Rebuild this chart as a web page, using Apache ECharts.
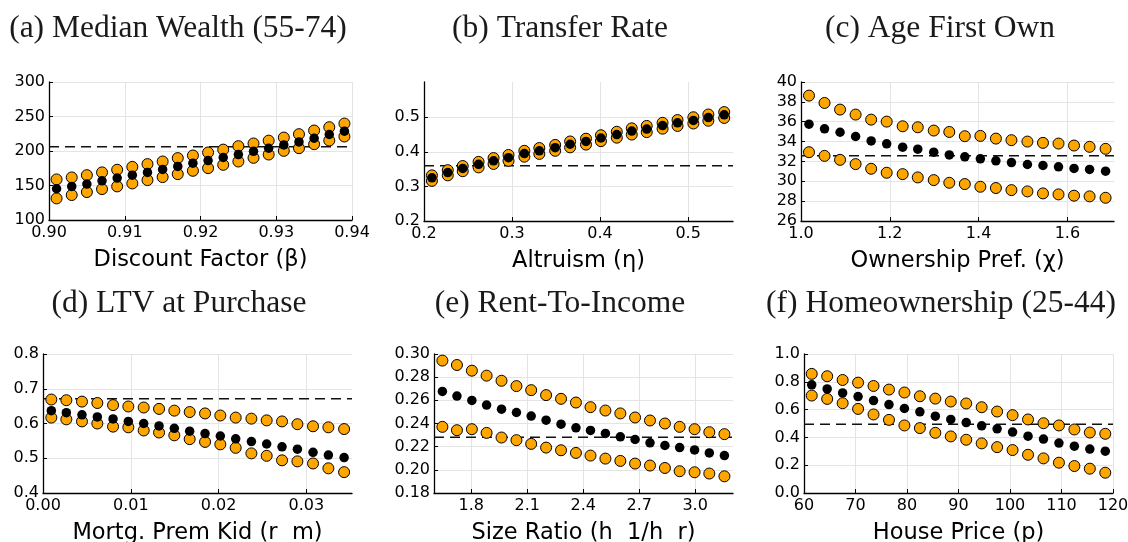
<!DOCTYPE html>
<html>
<head>
<meta charset="utf-8">
<script src="https://cdn.jsdelivr.net/npm/echarts@6/dist/echarts.min.js"></script>
<style>
  html, body { margin: 0; padding: 0; background: #fff; }
  #chart { width: 1128px; height: 542px; }
</style>
</head>
<body>
<div id="chart"></div>
<script>
// (a) Median wealth (55-74) vs discount factor
const betaGrid = [0.901, 0.903, 0.905, 0.907, 0.909, 0.911, 0.913, 0.915, 0.917, 0.919, 0.921, 0.923, 0.925, 0.927, 0.929, 0.931, 0.933, 0.935, 0.937, 0.939];
const wealthHi  = [158.8, 161.7, 165.0, 169.0, 172.8, 177.0, 181.0, 184.8, 189.7, 193.5, 197.8, 202.0, 207.0, 210.9, 215.0, 219.5, 224.4, 229.7, 234.5, 239.8];
const wealthMid = [145.3, 148.7, 152.1, 156.8, 160.7, 165.0, 168.9, 173.3, 177.6, 182.4, 186.2, 190.6, 194.9, 199.6, 204.0, 208.8, 213.2, 218.5, 223.9, 228.7];
const wealthLo  = [131.3, 136.2, 140.5, 144.8, 148.7, 153.0, 157.8, 162.2, 166.5, 171.3, 175.2, 180.0, 184.8, 190.1, 194.9, 200.2, 204.1, 209.9, 215.2, 221.0];
const wealthTarget = 206;
const wealthXTicks = [0.90, 0.91, 0.92, 0.93, 0.94];
const wealthYTicks = [100, 150, 200, 250, 300];

// (b) Transfer rate vs altruism
const etaGrid = [0.209, 0.227, 0.244, 0.262, 0.279, 0.296, 0.314, 0.331, 0.349, 0.366, 0.384, 0.401, 0.419, 0.436, 0.453, 0.471, 0.488, 0.506, 0.523, 0.541];
const transferHi  = [0.332, 0.347, 0.359, 0.371, 0.382, 0.391, 0.403, 0.411, 0.420, 0.430, 0.438, 0.448, 0.458, 0.468, 0.475, 0.484, 0.492, 0.500, 0.508, 0.515];
const transferMid = [0.325, 0.340, 0.352, 0.364, 0.374, 0.383, 0.395, 0.403, 0.412, 0.422, 0.430, 0.440, 0.450, 0.460, 0.466, 0.476, 0.484, 0.491, 0.499, 0.507];
const transferLo  = [0.316, 0.332, 0.344, 0.355, 0.365, 0.374, 0.386, 0.394, 0.403, 0.413, 0.421, 0.431, 0.441, 0.450, 0.457, 0.467, 0.475, 0.482, 0.490, 0.498];
const transferTarget = 0.3596;
const transferXTicks = [0.2, 0.3, 0.4, 0.5];
const transferYTicks = [0.2, 0.3, 0.4, 0.5];

// (c) Age first own vs ownership preference
const chiGrid = [1.018, 1.053, 1.088, 1.123, 1.158, 1.193, 1.229, 1.263, 1.299, 1.334, 1.369, 1.404, 1.439, 1.474, 1.510, 1.545, 1.580, 1.615, 1.650, 1.686];
const ageHi  = [38.63, 37.89, 37.22, 36.72, 36.21, 36.01, 35.54, 35.44, 35.11, 34.97, 34.54, 34.57, 34.30, 34.14, 34.00, 33.87, 33.80, 33.60, 33.47, 33.27];
const ageMid = [35.75, 35.28, 34.94, 34.51, 34.07, 33.77, 33.43, 33.23, 32.93, 32.66, 32.46, 32.26, 32.06, 31.89, 31.69, 31.59, 31.46, 31.29, 31.19, 31.02];
const ageLo  = [32.93, 32.56, 32.16, 31.73, 31.26, 30.86, 30.72, 30.39, 30.12, 29.85, 29.72, 29.45, 29.32, 29.11, 28.98, 28.78, 28.68, 28.55, 28.48, 28.34];
const ageTarget = 32.56;
const ageXTicks = [1.0, 1.2, 1.4, 1.6];
const ageYTicks = [26, 28, 30, 32, 34, 36, 38, 40];

// (d) LTV at purchase vs mortgage premium for kids
const premGrid = [0.00095, 0.00266, 0.00444, 0.00619, 0.00798, 0.00972, 0.01147, 0.01322, 0.01496, 0.01671, 0.01846, 0.02020, 0.02195, 0.02374, 0.02548, 0.02723, 0.02898, 0.03076, 0.03251, 0.03430];
const ltvHi  = [0.669, 0.667, 0.663, 0.659, 0.653, 0.649, 0.646, 0.642, 0.637, 0.633, 0.629, 0.623, 0.617, 0.614, 0.609, 0.606, 0.598, 0.592, 0.589, 0.584];
const ltvMid = [0.637, 0.631, 0.625, 0.619, 0.613, 0.606, 0.600, 0.593, 0.586, 0.578, 0.571, 0.564, 0.556, 0.548, 0.541, 0.533, 0.526, 0.517, 0.509, 0.502];
const ltvLo  = [0.617, 0.612, 0.606, 0.600, 0.591, 0.589, 0.580, 0.574, 0.566, 0.555, 0.547, 0.540, 0.530, 0.514, 0.507, 0.494, 0.491, 0.485, 0.471, 0.460];
const ltvTarget = 0.671;
const ltvXTicks = [0.00, 0.01, 0.02, 0.03];
const ltvYTicks = [0.4, 0.5, 0.6, 0.7, 0.8];

// (e) Rent-to-income vs size ratio
const sizeGrid = [1.645, 1.723, 1.803, 1.882, 1.962, 2.042, 2.121, 2.201, 2.281, 2.361, 2.439, 2.519, 2.599, 2.678, 2.758, 2.838, 2.917, 2.997, 3.076, 3.157];
const rentHi  = [0.2943, 0.2905, 0.2856, 0.2813, 0.2769, 0.2723, 0.2688, 0.2645, 0.2613, 0.2581, 0.2541, 0.2512, 0.2487, 0.2452, 0.2426, 0.2400, 0.2371, 0.2351, 0.2325, 0.2308];
const rentMid = [0.2677, 0.2637, 0.2599, 0.2559, 0.2524, 0.2495, 0.2464, 0.2429, 0.2394, 0.2363, 0.2340, 0.2314, 0.2285, 0.2262, 0.2233, 0.2210, 0.2192, 0.2172, 0.2146, 0.2123];
const rentLo  = [0.2371, 0.2342, 0.2351, 0.2319, 0.2279, 0.2256, 0.2224, 0.2192, 0.2169, 0.2146, 0.2123, 0.2097, 0.2077, 0.2054, 0.2037, 0.2016, 0.1988, 0.1979, 0.1968, 0.1944];
const rentTarget = 0.2282;
const rentXTicks = [1.8, 2.1, 2.4, 2.7, 3.0];
const rentYTicks = [0.18, 0.20, 0.22, 0.24, 0.26, 0.28, 0.30];

// (f) Homeownership (25-44) vs house price
const priceGrid = [61.5, 64.5, 67.5, 70.5, 73.5, 76.5, 79.5, 82.5, 85.5, 88.5, 91.5, 94.5, 97.5, 100.5, 103.5, 106.5, 109.5, 112.5, 115.5, 118.5];
const ownHi  = [0.857, 0.840, 0.813, 0.794, 0.770, 0.744, 0.723, 0.696, 0.679, 0.658, 0.644, 0.617, 0.586, 0.560, 0.529, 0.502, 0.486, 0.457, 0.435, 0.426];
const ownMid = [0.778, 0.749, 0.720, 0.694, 0.665, 0.636, 0.608, 0.584, 0.553, 0.529, 0.507, 0.483, 0.462, 0.438, 0.409, 0.388, 0.359, 0.337, 0.316, 0.301];
const ownLo  = [0.701, 0.677, 0.646, 0.605, 0.565, 0.526, 0.486, 0.467, 0.433, 0.407, 0.383, 0.357, 0.330, 0.309, 0.275, 0.249, 0.218, 0.194, 0.175, 0.146];
const ownTarget = 0.495;
const ownXTicks = [60, 70, 80, 90, 100, 110, 120];
const ownYTicks = [0.0, 0.2, 0.4, 0.6, 0.8, 1.0];

const ORANGE = '#FFA500';
const SANS = '"DejaVu Sans", sans-serif';
const SERIF = '"Liberation Serif", "DejaVu Serif", serif';

const panels = [
  { title: '(a) Median Wealth (55-74)', tx: 178, ty: 29, name: 'Discount Factor (\u03b2)',
    x: betaGrid, hi: wealthHi, mid: wealthMid, lo: wealthLo, target: wealthTarget,
    xt: wealthXTicks, yt: wealthYTicks, xd: 2, yd: 0,
    xr: [0.90, 0.94], yr: [100, 300], rect: [49, 82, 303, 138] },
  { title: '(b) Transfer Rate', tx: 560, ty: 29, name: 'Altruism (\u03b7)',
    x: etaGrid, hi: transferHi, mid: transferMid, lo: transferLo, target: transferTarget,
    xt: transferXTicks, yt: transferYTicks, xd: 1, yd: 1,
    xr: [0.2, 0.551], yr: [0.2, 0.602], rect: [424, 82, 309, 139] },
  { title: '(c) Age First Own', tx: 940, ty: 29, name: 'Ownership Pref. (\u03c7)',
    x: chiGrid, hi: ageHi, mid: ageMid, lo: ageLo, target: ageTarget,
    xt: ageXTicks, yt: ageYTicks, xd: 1, yd: 0,
    xr: [1.0, 1.705], yr: [26, 40], rect: [801, 82, 313, 139] },
  { title: '(d) LTV at Purchase', tx: 179, ty: 304, name: 'Mortg. Prem Kid (r  m)',
    x: premGrid, hi: ltvHi, mid: ltvMid, lo: ltvLo, target: ltvTarget,
    xt: ltvXTicks, yt: ltvYTicks, xd: 2, yd: 1,
    xr: [0, 0.0352], yr: [0.4, 0.8], rect: [43, 354, 309, 139] },
  { title: '(e) Rent-To-Income', tx: 560, ty: 304, name: 'Size Ratio (h  1/h  r)',
    x: sizeGrid, hi: rentHi, mid: rentMid, lo: rentLo, target: rentTarget,
    xt: rentXTicks, yt: rentYTicks, xd: 1, yd: 2,
    xr: [1.6, 3.203], yr: [0.18, 0.30], rect: [434, 354, 299, 139] },
  { title: '(f) Homeownership (25-44)', tx: 941, ty: 304, name: 'House Price (p)',
    x: priceGrid, hi: ownHi, mid: ownMid, lo: ownLo, target: ownTarget,
    xt: ownXTicks, yt: ownYTicks, xd: 0, yd: 1,
    xr: [60, 120], yr: [0, 1.0], rect: [804, 354, 309, 139] }
];

const grids = [], xAxes = [], yAxes = [], series = [], graphics = [];

function axisCommon(ticks, digits) {
  return {
    axisLine: { show: true, onZero: false, lineStyle: { color: '#000', width: 1.3 } },
    axisTick: { show: true, inside: true, length: 4, customValues: ticks,
                lineStyle: { color: '#000', width: 1 } },
    axisLabel: { customValues: ticks, color: '#000', fontFamily: SANS, fontSize: 16,
                 formatter: v => Number(v).toFixed(digits) },
    splitLine: { show: true, lineStyle: { color: '#e4e4e4', width: 1 } }
  };
}

panels.forEach((p, i) => {
  // fixed plot rectangles; labels/names may sit outside them
  grids.push({ left: p.rect[0], top: p.rect[1], width: p.rect[2], height: p.rect[3],
               containLabel: false, outerBoundsMode: 'none' });

  const xa = axisCommon(p.xt, p.xd);
  xa.axisLabel.margin = 5;
  xAxes.push(Object.assign({
    type: 'value', gridIndex: i, min: p.xr[0], max: p.xr[1],
    name: p.name, nameLocation: 'middle', nameGap: 29,
    nameTextStyle: { color: '#000', fontFamily: SANS, fontSize: 22.5, verticalAlign: 'top' }
  }, xa));

  const ya = axisCommon(p.yt, p.yd);
  ya.axisLabel.margin = 4;
  yAxes.push(Object.assign({ type: 'value', gridIndex: i, min: p.yr[0], max: p.yr[1] }, ya));

  // calibration target (dashed horizontal reference)
  series.push({
    type: 'line', xAxisIndex: i, yAxisIndex: i, symbol: 'none', silent: true, z: 1,
    data: [[p.xr[0], p.target], [p.xr[1], p.target]],
    lineStyle: { color: '#111', width: 1.5, type: [10, 6] }
  });
  const pair = arr => p.x.map((xv, k) => [xv, arr[k]]);
  [p.hi, p.lo].forEach(arr => series.push({
    type: 'scatter', xAxisIndex: i, yAxisIndex: i, z: 3, silent: true,
    symbol: 'circle', symbolSize: 11, data: pair(arr),
    itemStyle: { color: ORANGE, borderColor: '#000', borderWidth: 1, opacity: 1 }
  }));
  series.push({
    type: 'scatter', xAxisIndex: i, yAxisIndex: i, z: 4, silent: true,
    symbol: 'circle', symbolSize: 9.5, data: pair(p.mid),
    itemStyle: { color: '#000', opacity: 1 }
  });

  graphics.push({
    type: 'text', x: p.tx, y: p.ty,
    style: { text: p.title, fill: '#1a1a1a', font: '31.5px ' + SERIF, textAlign: 'center', textVerticalAlign: 'middle' }
  });
});

const chart = echarts.init(document.getElementById('chart'), null, { renderer: 'canvas' });
chart.setOption({
  backgroundColor: '#fff',
  animation: false,
  grid: grids,
  xAxis: xAxes,
  yAxis: yAxes,
  series: series,
  graphic: graphics
});
</script>
</body>
</html>
